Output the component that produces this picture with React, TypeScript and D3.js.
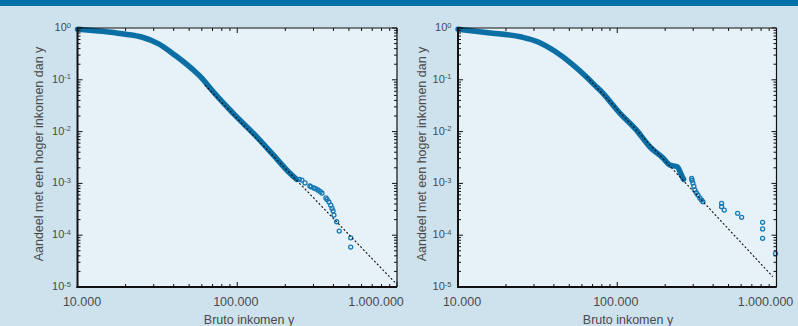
import React from 'react';
import * as d3 from 'd3';

const W = 798;
const H = 326;

// axis ticks
const xTickValues = [1e4, 1e5, 1e6];
const xTickLabels = ['10.000', '100.000', '1.000.000'];
const yTickExponents = [0, -1, -2, -3, -4, -5];

type Pt = [number, number];

// left panel: dense part of the distribution (income, share above)
const leftBand: Pt[] = [
  [10000, 0.944], [15600, 0.838], [20000, 0.76], [25200, 0.67], [32000, 0.498],
  [40800, 0.297], [51900, 0.164], [60000, 0.108], [68000, 0.068], [72600, 0.0537],
  [94400, 0.0225], [132000, 0.008], [168000, 0.00355], [213700, 0.00157], [235000, 0.0012],
];
// left panel: sparse top incomes
const leftTail: Pt[] = [
  [245000, 1.2e-3], [254000, 1.16e-3], [265600, 1.02e-3], [285000, 8.9e-4], [290000, 8.6e-4],
  [302000, 8.15e-4], [310000, 7.9e-4], [320000, 7.46e-4], [330000, 7.0e-4], [339000, 6.53e-4],
  [359000, 5.24e-4], [365000, 4.9e-4], [375000, 4.37e-4], [385000, 3.8e-4], [392000, 3.3e-4],
  [398000, 2.95e-4], [403000, 2.45e-4], [419000, 1.82e-4], [435000, 1.2e-4],
  [513000, 8.9e-5], [513000, 5.9e-5],
];
const leftFit: Pt[] = [[62800, 0.079], [980000, 1.19e-5]];

// right panel
const rightBand: Pt[] = [
  [10000, 0.944], [15500, 0.813], [25100, 0.67], [31900, 0.537], [40600, 0.355],
  [51800, 0.204], [65800, 0.105], [72400, 0.078], [77800, 0.0635], [104000, 0.0225],
  [132000, 0.0107], [160000, 0.0051], [194500, 0.00305], [214000, 0.00226],
  [238000, 0.0021], [253000, 0.00145], [261000, 0.0012],
];
const rightTail: Pt[] = [
  [293000, 1.25e-3], [295000, 1.15e-3], [298500, 1.02e-3], [303000, 8.8e-4], [307000, 7.46e-4],
  [314000, 6.6e-4], [321000, 5.97e-4], [330000, 5.24e-4], [338000, 4.8e-4], [345000, 4.43e-4],
  [452000, 4.13e-4], [452000, 3.55e-4], [470000, 3.06e-4], [570000, 2.64e-4], [604000, 2.21e-4],
  [818000, 1.77e-4], [818000, 1.32e-4], [818000, 8.7e-5], [986000, 4.4e-5],
];
const rightFit: Pt[] = [[64300, 0.115], [948000, 1.58e-5]];

const FONT = '"Liberation Sans", Arial, sans-serif';
const TEXT = '#4a4a4a';
const BAND = '#0b6fa6';

type PanelProps = {
  x0: number;
  x1: number;
  band: Pt[];
  tail: Pt[];
  fit: Pt[];
  labelDx: number[];
  yLabelX: number;
  xLabelX: number;
};

const Panel = ({ x0, x1, band, tail, fit, labelDx, yLabelX, xLabelX }: PanelProps) => {
  const top = 28;
  const bottom = 287;
  const x = d3.scaleLog().domain([1e4, 1e6]).range([x0, x1]);
  const y = d3.scaleLog().domain([1e-5, 1]).range([bottom, top]);
  const isMajor = (v: number) => Math.abs(Math.log10(v) - Math.round(Math.log10(v))) < 1e-9;

  const line = d3.line<Pt>().x(d => x(d[0])).y(d => y(d[1])).curve(d3.curveMonotoneX);
  const fitLine = d3.line<Pt>().x(d => x(d[0])).y(d => y(d[1]));

  return (
    <g>
      <rect x={x0} y={top} width={x1 - x0} height={bottom - top} fill="#e6f1f8" />
      <path d={line(band) || ''} fill="none" stroke={BAND} strokeWidth={5.5} strokeLinecap="round" strokeLinejoin="round" />
      {tail.map((d, i) => (
        <circle key={i} cx={x(d[0])} cy={y(d[1])} r={2} fill="none" stroke="#1479b6" strokeWidth={1.3} />
      ))}
      <path d={fitLine(fit) || ''} fill="none" stroke="#111" strokeWidth={1.1} strokeDasharray="2,2" />

      {/* x ticks top and bottom */}
      {x.ticks().map((v, i) => {
        const len = isMajor(v) ? 5 : 3;
        const px = x(v);
        return (
          <g key={'x' + i} stroke="#111" strokeWidth={1}>
            <line x1={px} x2={px} y1={bottom} y2={bottom - len} />
            <line x1={px} x2={px} y1={top} y2={top + len} />
          </g>
        );
      })}
      {/* y ticks left and right */}
      {y.ticks().map((v, i) => {
        const len = isMajor(v) ? 5 : 3;
        const py = y(v);
        return (
          <g key={'y' + i} stroke="#111" strokeWidth={1}>
            <line x1={x0} x2={x0 + len} y1={py} y2={py} />
            <line x1={x1} x2={x1 - len} y1={py} y2={py} />
          </g>
        );
      })}

      {/* frame */}
      <line x1={x0} x2={x1} y1={top} y2={top} stroke="#111" strokeWidth={1.2} />
      <line x1={x1} x2={x1} y1={top} y2={bottom} stroke="#111" strokeWidth={1.2} />
      <line x1={x0} x2={x0} y1={top - 0.5} y2={bottom + 1} stroke="#111" strokeWidth={2} />
      <line x1={x0 - 1} x2={x1} y1={bottom} y2={bottom} stroke="#111" strokeWidth={2} />

      {/* tick labels */}
      {xTickValues.map((v, i) => (
        <text key={'xl' + i} x={x(v) + labelDx[i]} y={306} textAnchor="middle"
          fontFamily={FONT} fontSize={12.5} fill={TEXT}>{xTickLabels[i]}</text>
      ))}
      {yTickExponents.map(e => (
        <text key={'yl' + e} x={x0 - 6.5} y={y(Math.pow(10, e)) + 3} textAnchor="end"
          fontFamily={FONT} fontSize={11} fill={TEXT}>
          10<tspan dy={-3.5} fontSize={7.5}>{String(e)}</tspan>
        </text>
      ))}

      {/* axis titles */}
      <text x={xLabelX} y={323.5} textAnchor="middle" fontFamily={FONT} fontSize={12.5} fill={TEXT}>
        Bruto inkomen y
      </text>
      <text transform={`translate(${yLabelX},154) rotate(-90)`} textAnchor="middle"
        fontFamily={FONT} fontSize={12.5} fill={TEXT}>
        Aandeel met een hoger inkomen dan y
      </text>
    </g>
  );
};

const App = () => {
  return (
    <svg width={W} height={H} style={{ position: 'absolute', left: 0, top: 0, display: 'block' }}>
      <rect x={0} y={0} width={W} height={H} fill="#cee2ed" />
      <rect x={0} y={0} width={W} height={6} fill="#0070a8" />
      <Panel x0={77.5} x1={397} band={leftBand} tail={leftTail} fit={leftFit}
        labelDx={[4.5, -1.5, -21]} yLabelX={43} xLabelX={249} />
      <Panel x0={458} x1={776.5} band={rightBand} tail={rightTail} fit={rightFit}
        labelDx={[4, -1.5, -11]} yLabelX={425.5} xLabelX={628} />
    </svg>
  );
};

export default App;
